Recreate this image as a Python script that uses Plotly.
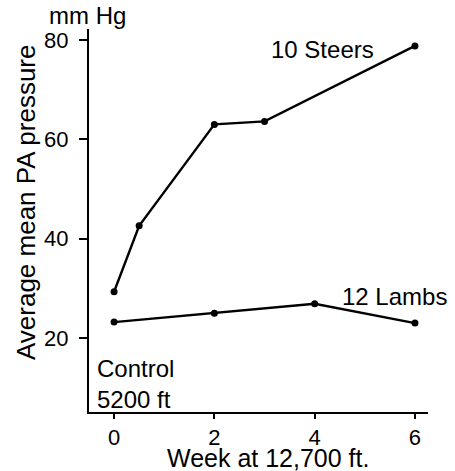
import plotly.graph_objects as go

steer_weeks = [0, 0.5, 2, 3, 6]
steer_pressure = [29.3, 42.6, 63.0, 63.6, 78.8]
lamb_weeks = [0, 2, 4, 6]
lamb_pressure = [23.2, 25.0, 26.9, 23.0]
x_ticks = [0, 2, 4, 6]
y_ticks = [20, 40, 60, 80]

FONT = "Liberation Sans, Arial, sans-serif"

fig = go.Figure()
for xs, ys, name in [(steer_weeks, steer_pressure, "10 Steers"), (lamb_weeks, lamb_pressure, "12 Lambs")]:
    fig.add_trace(go.Scatter(
        x=xs, y=ys, mode="lines+markers", name=name,
        line=dict(color="black", width=2.4),
        marker=dict(color="black", size=7),
        showlegend=False,
    ))

fig.update_layout(
    width=455, height=471,
    margin=dict(l=89, r=27, t=29, b=59),
    paper_bgcolor="white", plot_bgcolor="white",
    font=dict(family=FONT, size=24, color="black"),
    xaxis=dict(
        range=[-0.5, 6.26], tickvals=x_ticks, showgrid=False, zeroline=False,
        showline=True, linecolor="black", linewidth=2,
        ticks="outside", ticklen=5, tickwidth=2, tickcolor="black",
        tickfont=dict(size=22),
    ),
    yaxis=dict(
        range=[5.1, 82.2], tickvals=y_ticks, showgrid=False, zeroline=False,
        showline=True, linecolor="black", linewidth=2,
        ticks="outside", ticklen=8, tickwidth=2, tickcolor="black",
        tickfont=dict(size=22), ticklabelstandoff=6,
    ),
    annotations=[
        dict(text="Average mean PA pressure", xref="paper", yref="paper",
             x=-0.186, y=0.548, xanchor="center", yanchor="middle",
             textangle=-90, showarrow=False, font=dict(size=26)),
        dict(text="Week at 12,700 ft.", xref="paper", yref="paper",
             x=0.528, y=-0.121, xanchor="center", yanchor="middle",
             showarrow=False, font=dict(size=25)),
        dict(text="mm Hg", xref="paper", yref="paper", x=-0.003, y=1.034,
             xanchor="center", yanchor="middle", showarrow=False, font=dict(size=24)),
        dict(text="10 Steers", x=4.16, y=78.1, xref="x", yref="y",
             xanchor="center", yanchor="middle", showarrow=False, font=dict(size=24)),
        dict(text="12 Lambs", x=5.6, y=28.45, xref="x", yref="y",
             xanchor="center", yanchor="middle", showarrow=False, font=dict(size=24)),
        dict(text="Control<br>5200 ft", x=0.018, y=0.074, xref="paper", yref="paper",
             xanchor="left", yanchor="middle", align="left", showarrow=False,
             font=dict(size=24)),
    ],
)

fig.write_html("out.html", config={"displayModeBar": False},
               post_script="document.body.style.margin='0';")
